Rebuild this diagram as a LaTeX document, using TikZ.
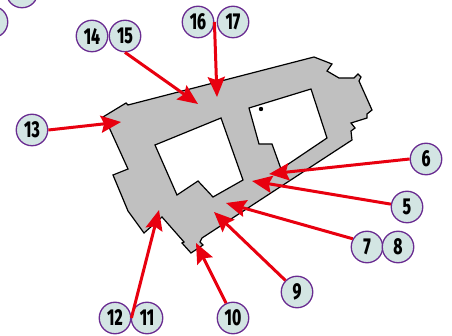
\documentclass[tikz,border=0pt]{standalone}
\usepackage{xcolor}
\usepackage{fontspec}
\usetikzlibrary{arrows.meta}
\setmainfont{Fira Sans}[FakeStretch=0.68, BoldFont={Fira Sans ExtraBold}, BoldFeatures={FakeStretch=0.68}]
\definecolor{ringcol}{HTML}{6A2C91}
\definecolor{discol}{HTML}{D3E5E3}
\definecolor{arrowcol}{HTML}{E8000F}
\definecolor{wallcol}{HTML}{C0C0C0}
\tikzset{
    callout/.style = {circle, draw=ringcol, fill=discol, line width=1.3pt, minimum size=31.5pt, inner sep=0pt, font=\fontsize{23}{23}\selectfont\bfseries},
    pointer/.style = {draw=arrowcol, line width=3pt, -{Stealth[length=20pt, width=17pt, inset=3pt]}},
    wall/.style = {draw=black, line width=1.2pt, line join=miter}
}
\begin{document}
\begin{tikzpicture}[x=1pt, y=-1pt]
                        \useasboundingbox (0, 0) rectangle (452, 336);
                        \clip (0, 0) rectangle (452, 336);

                        \draw[wall, fill=wallcol, even odd rule] (103, 117) -- (126, 103) -- (128, 105) -- (314, 57) -- (332, 64) -- (327, 71) -- (339, 78) -- (354, 78) -- (358, 74) -- (361, 77) -- (359, 81) -- (372, 110) -- (367, 114) -- (367, 118) -- (351, 123) -- (355, 128) -- (351, 131) -- (352, 140) -- (202, 238) -- (200, 242) -- (203, 245) -- (191, 253) -- (182, 243) -- (184, 242) -- (162, 217) -- (144, 233) -- (128, 211) -- (113, 175) -- (128, 169) -- (108, 125) -- cycle
                            (155, 145) -- (221, 118) -- (243, 180) -- (213, 197) -- (198, 181) -- (177, 195) -- cycle
                            (249, 108) -- (311, 89) -- (327, 138) -- (281, 169) -- (272, 144) -- (259, 144) -- cycle;
                        \fill (261, 109) circle (2.2pt);

                        \node (n5) at (407, 207) [callout] {5};
                        \node (n6) at (426, 159) [callout] {6};
                        \node (n7) at (367, 247) [callout] {7};
                        \node (n8) at (398, 247) [callout] {8};
                        \node (n9) at (297, 292) [callout] {9};
                        \node (n10) at (233, 318) [callout] {10};
                        \node (n11) at (147, 318) [callout] {11};
                        \node (n12) at (115, 318) [callout] {12};
                        \node (n13) at (32, 130) [callout] {13};
                        \node (n14) at (92, 36) [callout] {14};
                        \node (n15) at (125, 36) [callout] {15};
                        \node (n16) at (198, 22) [callout] {16};
                        \node (n17) at (233, 22) [callout] {17};
                        \node (n18) at (-8, 22) [callout] {};
                        \node (n19) at (22, -8) [callout] {};

                        \coordinate (t5) at (252, 181);
                        \coordinate (t6) at (269, 174);
                        \coordinate (t7) at (226, 203);
                        \coordinate (t9) at (214, 212);
                        \coordinate (t10) at (196, 243);
                        \coordinate (t12) at (159, 210);
                        \coordinate (t13) at (121, 122);
                        \coordinate (t15) at (198, 104);
                        \coordinate (t16) at (217, 97);

                        \draw[pointer] (n5.170) -- (t5);
                        \draw[pointer] (n6.west) -- (t6);
                        \draw[pointer] (n7.150) -- (t7);
                        \draw[pointer] (n9.135) -- (t9);
                        \draw[pointer] (n10.115) -- (t10);
                        \draw[pointer] (n12.east) -- (t12);
                        \draw[pointer] (n13.east) -- (t13);
                        \draw[pointer] (n15.south) -- (t15);
                        \draw[pointer] (n16.east) -- (t16);
                    \end{tikzpicture}
\end{document}
